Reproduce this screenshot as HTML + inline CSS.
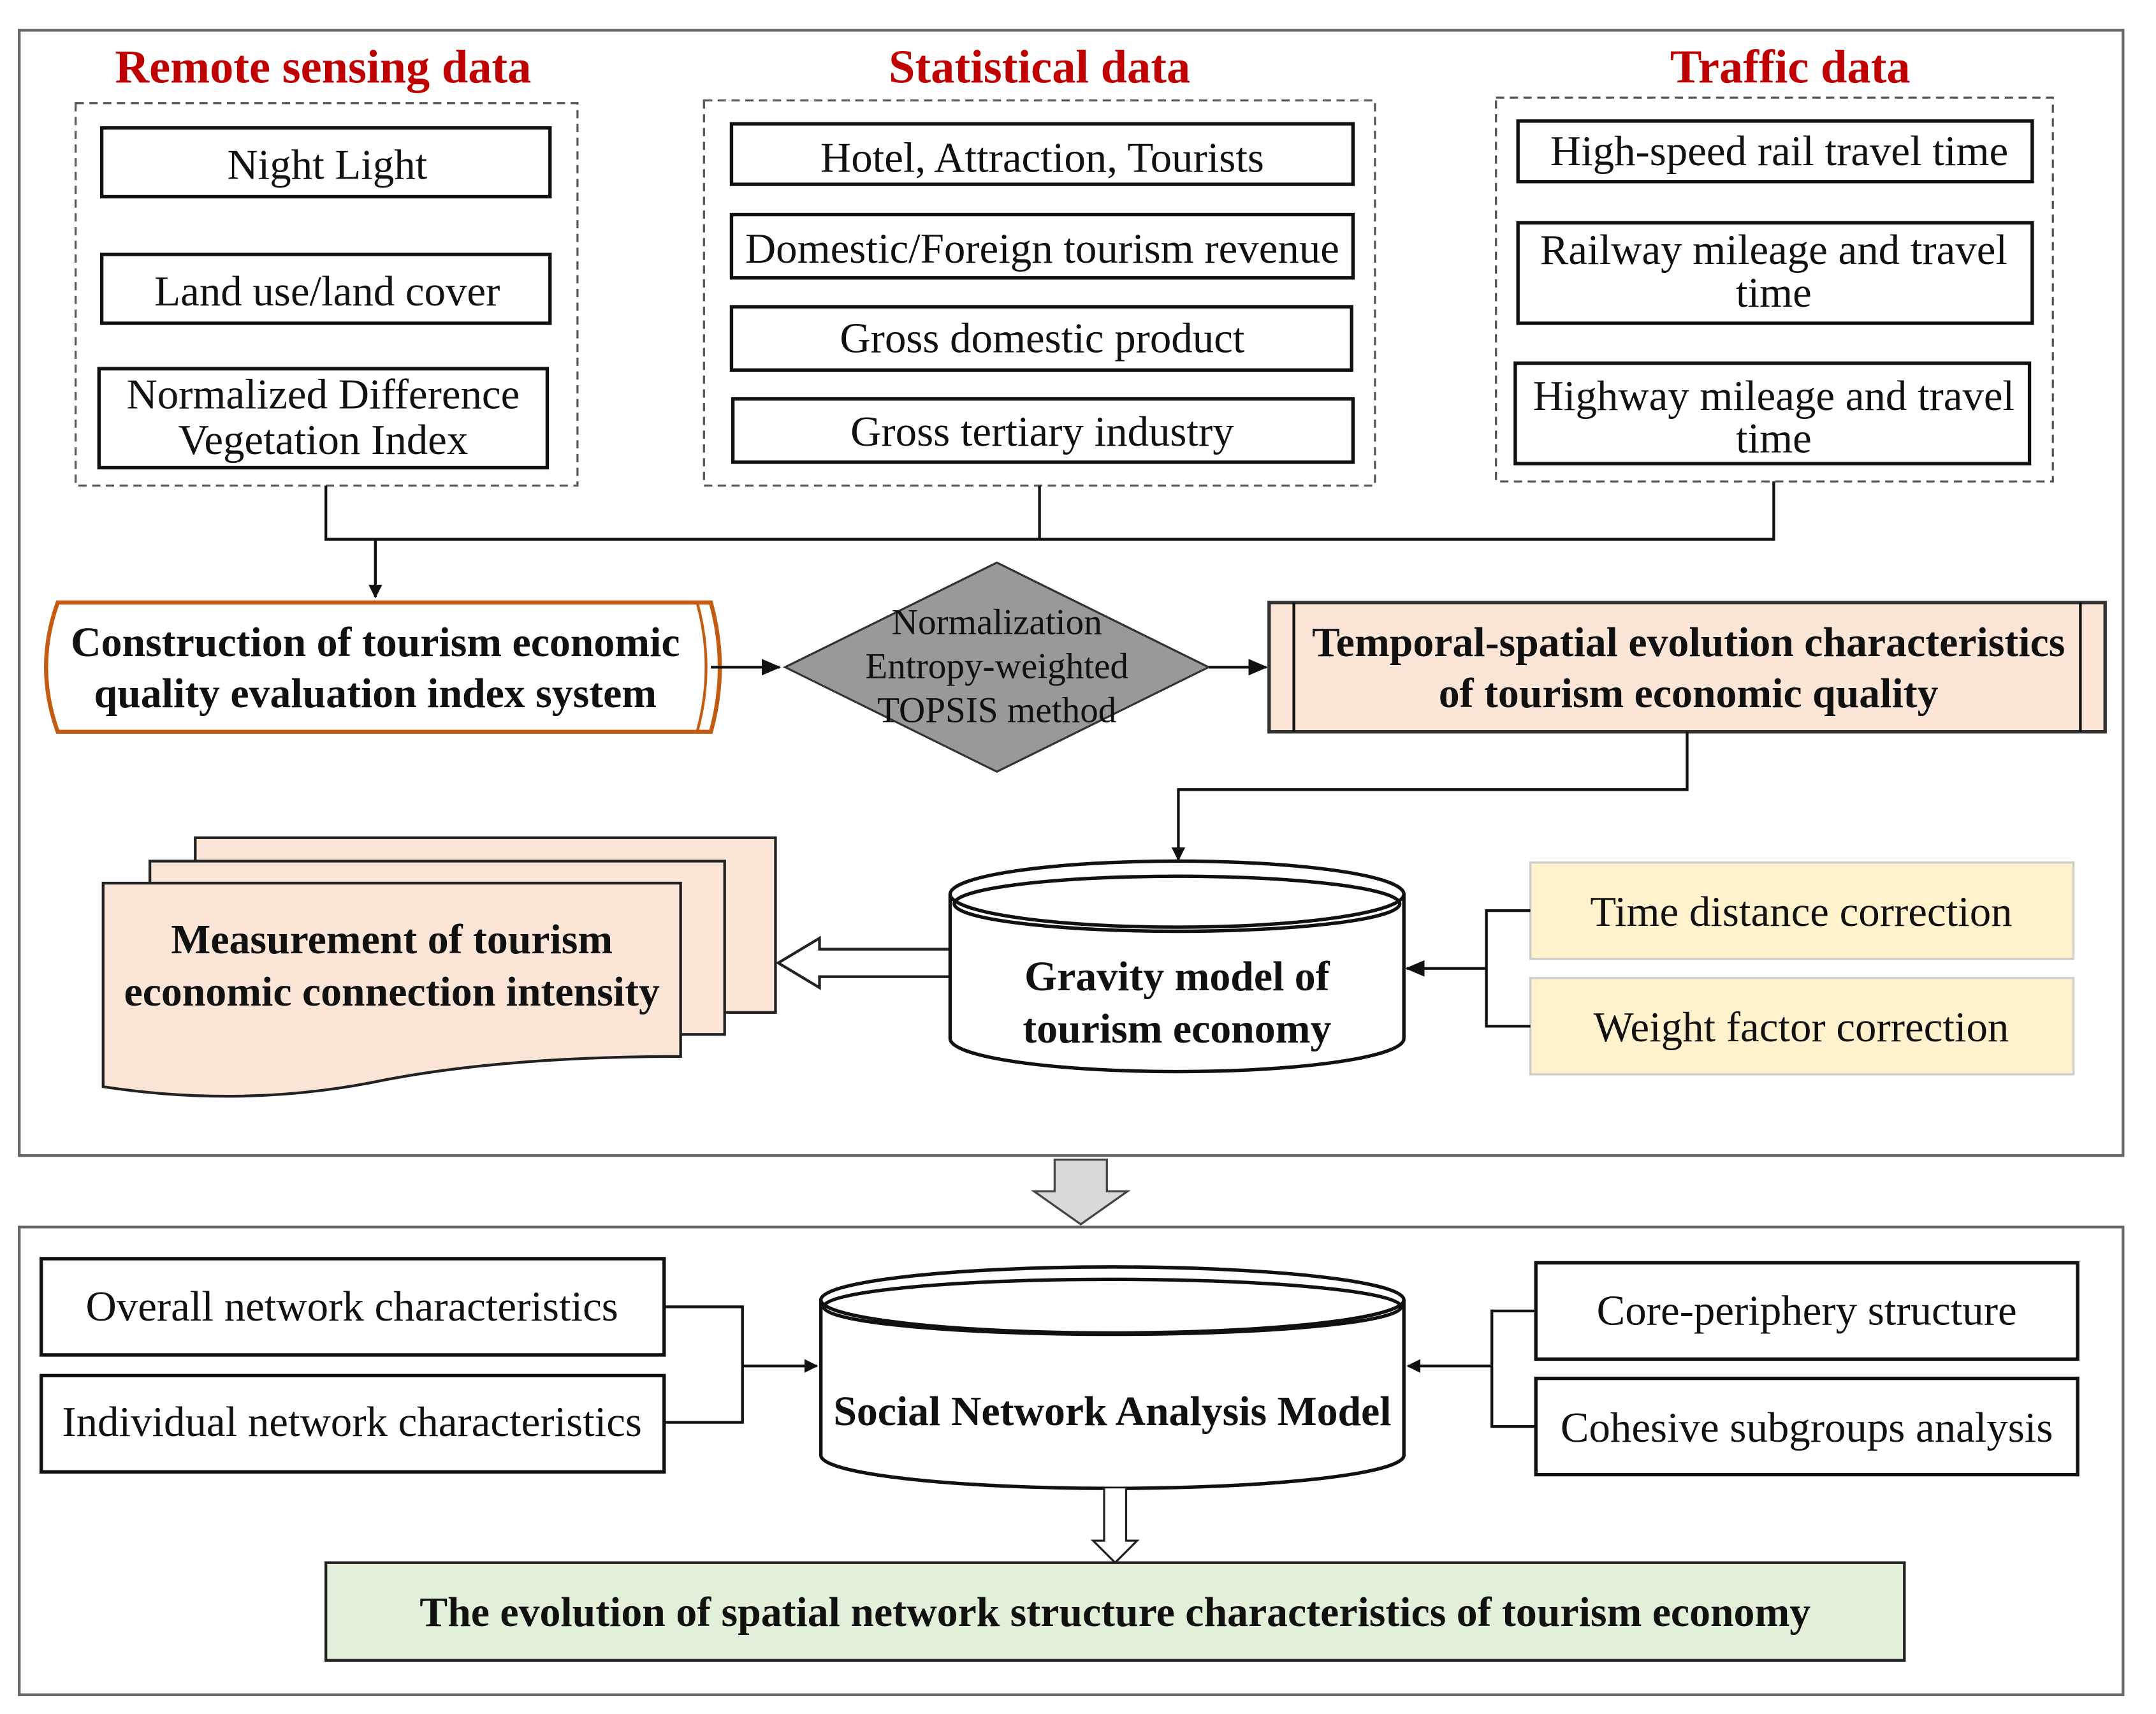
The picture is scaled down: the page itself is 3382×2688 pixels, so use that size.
<!DOCTYPE html>
<html><head><meta charset="utf-8"><style>
html,body{margin:0;padding:0;background:#fff}
svg{display:block}
text{font-family:"Liberation Serif",serif;fill:#111}
.t{font-size:31px;text-anchor:middle}
.b{font-size:30.5px;font-weight:bold;text-anchor:middle}
.h{font-size:34.5px;font-weight:bold;fill:#c00000;text-anchor:middle}
.box{fill:#fff;stroke:#111;stroke-width:2.5}
.dash{fill:none;stroke:#555;stroke-width:1.5;stroke-dasharray:6 4}
.ln{fill:none;stroke:#111;stroke-width:2}
</style></head><body>
<svg width="3382" height="2688" viewBox="0 0 1568 1246" preserveAspectRatio="none" xmlns="http://www.w3.org/2000/svg">
<defs>
<marker id="a" markerWidth="10" markerHeight="10" refX="9" refY="5" orient="auto" markerUnits="userSpaceOnUse"><path d="M0,0 L10,5 L0,10 z" fill="#111"/></marker>
<marker id="a2" markerWidth="14" markerHeight="14" refX="13" refY="7" orient="auto" markerUnits="userSpaceOnUse"><path d="M0,1 L14,7 L0,13 z" fill="#111"/></marker>
</defs>
<rect x="14" y="22" width="1530" height="818" fill="none" stroke="#666" stroke-width="2"/>
<rect x="14" y="892" width="1530" height="340" fill="none" stroke="#666" stroke-width="2"/>

<text class="h" x="235" y="60">Remote sensing data</text>
<text class="h" x="756" y="60">Statistical data</text>
<text class="h" x="1302" y="60">Traffic data</text>

<rect class="dash" x="55" y="75" width="365" height="278"/>
<rect class="dash" x="512" y="73" width="488" height="280"/>
<rect class="dash" x="1088" y="71" width="405" height="279"/>

<rect class="box" x="74" y="93" width="326" height="50"/><text class="t" x="238" y="130">Night Light</text>
<rect class="box" x="74" y="185" width="326" height="50"/><text class="t" x="238" y="222">Land use/land cover</text>
<rect class="box" x="72" y="268" width="326" height="72"/><text class="t" x="235" y="297">Normalized Difference</text><text class="t" x="235" y="330">Vegetation Index</text>

<rect class="box" x="532" y="90" width="452" height="44"/><text class="t" x="758" y="125">Hotel, Attraction, Tourists</text>
<rect class="box" x="532" y="156" width="452" height="46"/><text class="t" x="758" y="191">Domestic/Foreign tourism revenue</text>
<rect class="box" x="532" y="223" width="451" height="46"/><text class="t" x="758" y="256">Gross domestic product</text>
<rect class="box" x="533" y="290" width="451" height="46"/><text class="t" x="758" y="324">Gross tertiary industry</text>

<rect class="box" x="1104" y="88" width="374" height="44"/><text class="t" x="1294" y="120">High-speed rail travel time</text>
<rect class="box" x="1104" y="162" width="374" height="73"/><text class="t" x="1290" y="192">Railway mileage and travel</text><text class="t" x="1290" y="223">time</text>
<rect class="box" x="1102" y="264" width="374" height="73"/><text class="t" x="1290" y="298">Highway mileage and travel</text><text class="t" x="1290" y="329">time</text>

<path class="ln" d="M237,353 V392 H1290 V350 M756,353 V392"/>
<path class="ln" d="M273,392 V434" marker-end="url(#a)"/>

<path d="M42,438 H517 Q530,485 517,532 H42 Q25,485 42,438 z" fill="#fff" stroke="#c55a11" stroke-width="3"/>
<path d="M507,438 Q520,485 507,532" fill="none" stroke="#c55a11" stroke-width="2"/>
<text class="b" x="273" y="477">Construction of tourism economic</text>
<text class="b" x="273" y="514">quality evaluation index system</text>

<path class="ln" d="M517,485 H567" stroke-width="3" marker-end="url(#a2)"/>
<polygon points="725,409 879,485 725,561 571,485" fill="#999" stroke="#333" stroke-width="1.5"/>
<text x="725" y="461" style="font-size:26.5px;text-anchor:middle">Normalization</text>
<text x="725" y="493" style="font-size:26.5px;text-anchor:middle">Entropy-weighted</text>
<text x="725" y="525" style="font-size:26.5px;text-anchor:middle">TOPSIS method</text>
<path class="ln" d="M879,485 H921" stroke-width="3" marker-end="url(#a2)"/>

<rect x="923" y="438" width="608" height="94" fill="#fbe5d6" stroke="#333" stroke-width="2.5"/>
<path class="ln" d="M941,438 V532 M1513,438 V532"/>
<text class="b" x="1228" y="477">Temporal-spatial evolution characteristics</text>
<text class="b" x="1228" y="514">of tourism economic quality</text>
<path class="ln" d="M1227,532 V574 H857 V625" marker-end="url(#a)"/>

<rect x="142" y="609" width="422" height="127" fill="#fbe5d6" stroke="#222" stroke-width="2"/>
<rect x="109" y="626" width="418" height="126" fill="#fbe5d6" stroke="#222" stroke-width="2"/>
<path d="M75,642 H495 V768 Q370,768 280,785 Q180,806 75,790 z" fill="#fbe5d6" stroke="#222" stroke-width="2"/>
<text class="b" x="285" y="693">Measurement of tourism</text>
<text class="b" x="285" y="731">economic connection intensity</text>

<path d="M690,690 H596 V682 L566,700 L596,718 V710 H690" fill="#fff" stroke="#222" stroke-width="2"/>

<path d="M691,650 V755 A165,24 0 0 0 1021,755 V650" fill="#fff" stroke="#111" stroke-width="2.5"/>
<ellipse cx="856" cy="650" rx="165" ry="24" fill="#fff" stroke="#111" stroke-width="2.5"/>
<ellipse cx="856" cy="657" rx="162" ry="20" fill="none" stroke="#111" stroke-width="2.5"/>
<text class="b" x="856" y="720">Gravity model of</text>
<text class="b" x="856" y="758">tourism economy</text>

<rect x="1113" y="627" width="395" height="70" fill="#fff2cc" stroke="#ccc" stroke-width="1.5"/>
<text class="t" x="1310" y="673">Time distance correction</text>
<rect x="1113" y="711" width="395" height="70" fill="#fff2cc" stroke="#ccc" stroke-width="1.5"/>
<text class="t" x="1310" y="757">Weight factor correction</text>
<path class="ln" d="M1113,662 H1081 V746 H1113"/>
<path class="ln" d="M1081,704 H1023" stroke-width="2.5" marker-end="url(#a2)"/>

<path d="M767,843 H805 V866 H820 L786,890 L752,866 H767 z" fill="#d9d9d9" stroke="#444" stroke-width="1.5"/>

<rect class="box" x="30" y="915" width="453" height="70"/><text class="t" x="256" y="960">Overall network characteristics</text>
<rect class="box" x="30" y="1000" width="453" height="70"/><text class="t" x="256" y="1044">Individual network characteristics</text>
<path class="ln" d="M483,950 H540 V1034 H483 M540,993 H594" marker-end="url(#a)"/>

<path d="M597,945 V1058 A212,24 0 0 0 1021,1058 V945" fill="#fff" stroke="#111" stroke-width="2.5"/>
<ellipse cx="809" cy="945" rx="212" ry="24" fill="#fff" stroke="#111" stroke-width="2.5"/>
<ellipse cx="809" cy="950" rx="210" ry="20" fill="none" stroke="#111" stroke-width="2.5"/>
<text class="b" x="809" y="1036">Social Network Analysis Model</text>

<rect class="box" x="1117" y="918" width="394" height="70"/><text class="t" x="1314" y="963">Core-periphery structure</text>
<rect class="box" x="1117" y="1002" width="394" height="70"/><text class="t" x="1314" y="1048">Cohesive subgroups analysis</text>
<path class="ln" d="M1117,953 H1085 V1037 H1117"/>
<path class="ln" d="M1085,993 H1024" marker-end="url(#a)"/>

<path d="M803,1082 V1120 H795 L811,1136 L827,1120 H819 V1082" fill="#fff" stroke="#222" stroke-width="1.5"/>

<rect x="237" y="1136" width="1148" height="71" fill="#e2efd9" stroke="#222" stroke-width="2"/>
<text class="b" x="811" y="1182">The evolution of spatial network structure characteristics of tourism economy</text>
</svg>
</body></html>
